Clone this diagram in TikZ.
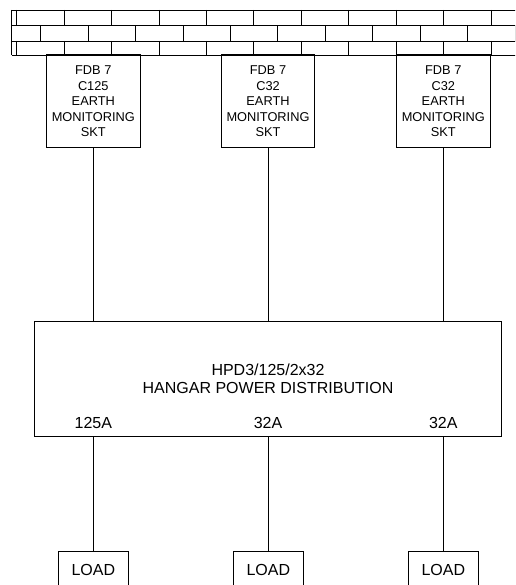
\documentclass[tikz,border=0pt]{standalone}
\usepackage{fontspec}
\setmainfont{Liberation Sans}
\begin{document}
\begin{tikzpicture}[x=1pt,y=-1pt,line width=0.9pt,
  fdbbox/.style={draw,rectangle,minimum width=93.3pt,minimum height=92.7pt,inner sep=0pt,align=center,
    font=\fontsize{12.8}{15.4}\selectfont},
  hpdbox/.style={draw,rectangle,minimum width=467.4pt,minimum height=115pt,inner sep=0pt,align=center,
    font=\fontsize{16}{18}\selectfont},
  loadbox/.style={draw,rectangle,minimum width=70pt,minimum height=36pt,inner sep=0pt,
    font=\fontsize{16}{18}\selectfont},
  amps/.style={inner sep=0pt,font=\fontsize{16}{18}\selectfont},
  wire/.style={draw,line width=0.9pt}]
\useasboundingbox (0,0) rectangle (515,585);
\clip (0,0) rectangle (515,585);
% brick wall
\draw (11.7,10) -- (516,10);
\draw (11.7,25.7) -- (516,25.7);
\draw (11.7,41) -- (516,41);
\draw (11.7,55) -- (516,55);
\draw (11.7,10) -- (11.7,55);
\foreach \k in {0,...,10} {
  \draw ({16.7+47.43*\k},10) -- ({16.7+47.43*\k},25.7);
  \draw ({16.7+47.43*\k},41) -- ({16.7+47.43*\k},55);
}
\foreach \k in {0,...,10} {
  \draw ({40.7+47.43*\k},25.7) -- ({40.7+47.43*\k},41);
}
% FDB boxes
\node[fdbbox] (fdb1) at (93.3,101.3) {FDB 7\\C125\\EARTH\\MONITORING\\SKT};
\node[fdbbox] (fdb2) at (268,101.3) {FDB 7\\C32\\EARTH\\MONITORING\\SKT};
\node[fdbbox] (fdb3) at (443.3,101.3) {FDB 7\\C32\\EARTH\\MONITORING\\SKT};
% HPD
\node[hpdbox] (hpd) at (268,378.5) {HPD3/125/2x32\\HANGAR POWER DISTRIBUTION};
\node[amps] (a1) at (93.3,422.7) {125A};
\node[amps] (a2) at (268,422.7) {32A};
\node[amps] (a3) at (443.3,422.7) {32A};
% loads
\node[loadbox] (l1) at (93.3,569.7) {LOAD};
\node[loadbox] (l2) at (268.3,569.7) {LOAD};
\node[loadbox] (l3) at (443.3,569.7) {LOAD};
% connectors
\draw[wire] (fdb1.south) -- (fdb1.south |- hpd.north);
\draw[wire] (fdb2.south) -- (fdb2.south |- hpd.north);
\draw[wire] (fdb3.south) -- (fdb3.south |- hpd.north);
\draw[wire] (l1.north |- hpd.south) -- (l1.north);
\draw[wire] (l2.north |- hpd.south) -- (l2.north);
\draw[wire] (l3.north |- hpd.south) -- (l3.north);
\end{tikzpicture}
\end{document}
